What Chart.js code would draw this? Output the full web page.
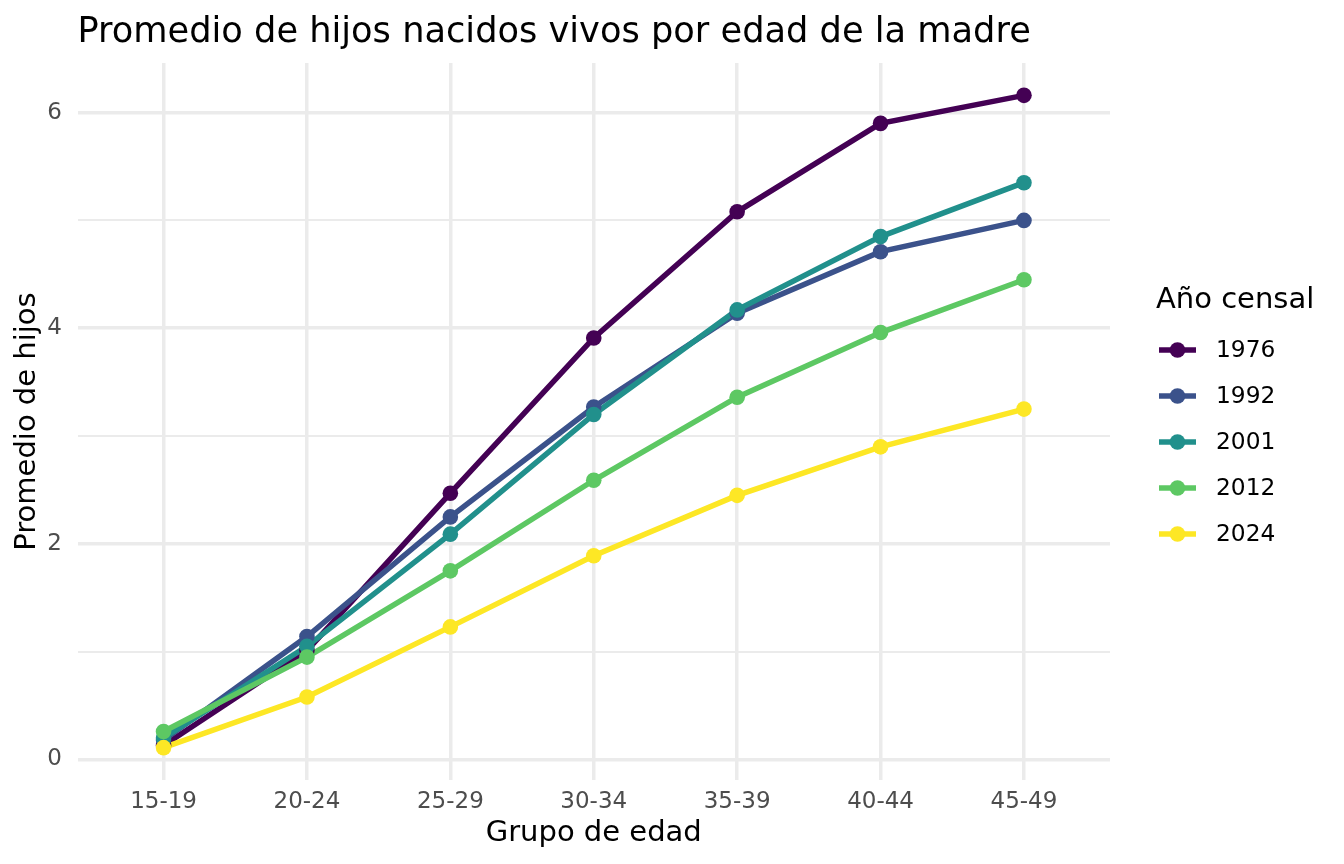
<!DOCTYPE html>
<html>
<head>
<meta charset="utf-8">
<script src="https://cdn.jsdelivr.net/npm/chart.js@4.4.1/dist/chart.umd.min.js"></script>
<style>
  html, body { margin: 0; padding: 0; background: #ffffff; }
  canvas { display: block; }
</style>
</head>
<body>
<canvas id="chart" width="1344" height="864"></canvas>
<script>
// age groups on the x axis
const categories = ['15-19', '20-24', '25-29', '30-34', '35-39', '40-44', '45-49'];

// census years (legend)
const years = ['1976', '1992', '2001', '2012', '2024'];

// mean children born alive, per age group
const v1976 = [0.13, 1.01, 2.47, 3.91, 5.08, 5.90, 6.16];
const v1992 = [0.18, 1.14, 2.25, 3.27, 4.14, 4.71, 5.00];
const v2001 = [0.20, 1.05, 2.09, 3.20, 4.17, 4.85, 5.35];
const v2012 = [0.26, 0.95, 1.75, 2.59, 3.36, 3.96, 4.45];
const v2024 = [0.11, 0.58, 1.23, 1.89, 2.45, 2.90, 3.25];

const seriesValues = [v1976, v1992, v2001, v2012, v2024];

// y grid / tick positions
const yTicks = [0, 1, 2, 3, 4, 5, 6];

// viridis, 5 colours
const colors = ['#440154', '#3B528B', '#21908C', '#5DC863', '#FDE725'];

const FONT = "'DejaVu Sans', sans-serif";
const GRID = '#ebebeb';

function points(values) {
  return values.map((v, i) => ({ x: i, y: v }));
}

// lines first (underneath), then all the points on top, like ggplot
const datasets = [];
years.forEach((y, i) => {
  datasets.push({
    label: y,
    data: points(seriesValues[i]),
    borderColor: colors[i],
    backgroundColor: colors[i],
    borderWidth: 5.5,
    pointRadius: 0,
    tension: 0,
    order: 100 - i
  });
});
years.forEach((y, i) => {
  datasets.push({
    label: y + ' pts',
    data: points(seriesValues[i]),
    showLine: false,
    borderColor: colors[i],
    backgroundColor: colors[i],
    borderWidth: 0,
    pointRadius: 7.8,
    order: 50 - i
  });
});

// plot title, left aligned with the panel
const titlePlugin = {
  id: 'plotTitle',
  afterDraw(chart) {
    const ctx = chart.ctx;
    ctx.save();
    ctx.font = '35.2px ' + FONT;
    ctx.fillStyle = '#000000';
    ctx.textAlign = 'left';
    ctx.textBaseline = 'alphabetic';
    ctx.fillText('Promedio de hijos nacidos vivos por edad de la madre', chart.chartArea.left, 42);
    ctx.restore();
  }
};

// legend on the right: line + dot keys
const legendPlugin = {
  id: 'sideLegend',
  afterDraw(chart) {
    const ctx = chart.ctx;
    const x0 = chart.chartArea.right + 46;
    ctx.save();
    ctx.fillStyle = '#000000';
    ctx.font = '29px ' + FONT;
    ctx.textAlign = 'left';
    ctx.textBaseline = 'middle';
    ctx.fillText('Año censal', x0, 300);

    ctx.font = '23.3px ' + FONT;
    years.forEach((y, i) => {
      const cy = 350 + i * 46;
      const ds = chart.data.datasets[i];
      ctx.strokeStyle = ds.borderColor;
      ctx.lineWidth = 5.5;
      ctx.beginPath();
      ctx.moveTo(x0 + 3, cy);
      ctx.lineTo(x0 + 40, cy);
      ctx.stroke();
      ctx.fillStyle = ds.borderColor;
      ctx.beginPath();
      ctx.arc(x0 + 21.5, cy, 7.8, 0, Math.PI * 2);
      ctx.fill();
      ctx.fillStyle = '#000000';
      ctx.fillText(ds.label, x0 + 60, cy + 1);
    });
    ctx.restore();
  }
};

const myChart = new Chart(document.getElementById('chart'), {
  type: 'line',
  data: { datasets: datasets },
  plugins: [titlePlugin, legendPlugin],
  options: {
    responsive: false,
    animation: false,
    devicePixelRatio: 1,
    layout: { padding: { left: 0, right: 234, top: 63, bottom: 0 } },
    plugins: {
      legend: { display: false },
      tooltip: { enabled: false },
      title: { display: false }
    },
    scales: {
      x: {
        type: 'linear',
        min: -0.6,
        max: 6.6,
        afterBuildTicks: (scale) => {
          scale.ticks = categories.map((c, i) => ({ value: i }));
        },
        afterFit: (scale) => { scale.height = 84; },
        border: { display: false },
        grid: { color: GRID, lineWidth: 3.5, drawTicks: false },
        ticks: {
          padding: 8,
          color: '#4d4d4d',
          font: { family: FONT, size: 23 },
          callback: (v) => categories[v]
        },
        title: {
          display: true,
          text: 'Grupo de edad',
          color: '#000000',
          font: { family: FONT, size: 29 },
          padding: { top: 0, bottom: 13 }
        }
      },
      y: {
        min: -0.19,
        max: 6.46,
        afterBuildTicks: (scale) => {
          scale.ticks = yTicks.map((v) => ({ value: v }));
        },
        afterFit: (scale) => { scale.width = 77.5; },
        border: { display: false },
        grid: {
          color: GRID,
          lineWidth: (c) => (c.tick && c.tick.value % 2 === 0 ? 3.5 : 1.9),
          drawTicks: false
        },
        ticks: {
          padding: 15.5,
          color: '#4d4d4d',
          font: { family: FONT, size: 23 },
          callback: (v) => (v % 2 === 0 ? String(v) : '')
        },
        title: {
          display: true,
          text: 'Promedio de hijos',
          color: '#000000',
          font: { family: FONT, size: 29 },
          padding: { top: 10, bottom: 0 }
        }
      }
    }
  }
});
</script>
</body>
</html>
